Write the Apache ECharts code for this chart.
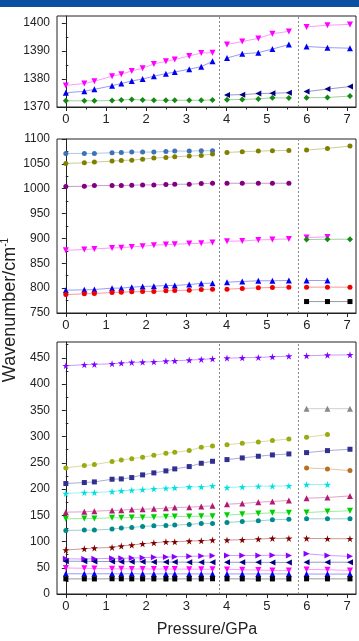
<!DOCTYPE html>
<html>
<head>
<meta charset="utf-8">
<script src="https://cdn.jsdelivr.net/npm/echarts@6/dist/echarts.min.js"></script>
<style>
  html, body { margin: 0; padding: 0; background: #fff; }
  #chart { width: 359px; height: 641px; }
</style>
</head>
<body>
<div id="chart"></div>
<script>
// pressures (GPa) for the three phases
const pressure1 = [0, 0.46, 0.71, 1.15, 1.38, 1.64, 1.91, 2.19, 2.49, 2.71, 3.07, 3.37, 3.65]
const pressure2 = [4.01, 4.39, 4.79, 5.14, 5.55]
const pressure3 = [5.99, 6.51, 7.07]
const boundaries = [3.82, 5.79]
const xTicks = [0, 1, 2, 3, 4, 5, 6, 7]

// top panel (1370 - 1400)
const p1Mag = [[1377.7, 1378.4, 1379.2, 1381, 1381.7, 1382.9, 1383.8, 1385.4, 1386.3, 1387, 1388.2, 1389.3, 1389.4], [1392.3, 1393.4, 1394.5, 1396.2, 1397], [1398.6, 1399.2, 1399.5]]
const p1Blue = [[1375.1, 1375.6, 1376.3, 1377.6, 1378.4, 1379.3, 1380, 1381, 1381.9, 1382.5, 1383.5, 1384.4, 1386.3], [1387.5, 1389, 1389.4, 1390.7, 1392.3], [1391.6, 1391.2, 1391]]
const p1Navy = [null, [1374.3, 1374.4, 1374.8, 1374.9, 1375.1], [1375.5, 1376.4, 1377.3]]
const p1Green = [[1372.2, 1372.2, 1372.2, 1372.3, 1372.5, 1372.7, 1372.5, 1372.4, 1372.4, 1372.4, 1372.4, 1372.4, 1372.5], [1372.6, 1372.7, 1372.9, 1373.3, 1373.2], [1373.3, 1373.4, 1373.9]]

// middle panel (750 - 1100)
const p2Steel = [[1071, 1071, 1071, 1072.4, 1073, 1073.7, 1073.7, 1073.7, 1075, 1075.7, 1075.7, 1076.4, 1076.4], null, null]
const p2Olive = [[1050.8, 1052.1, 1053.5, 1055.5, 1056.8, 1057.5, 1059.5, 1061.6, 1062.9, 1064.3, 1065.6, 1067, 1069.7], [1073, 1074.4, 1075.7, 1076.4, 1077.1], [1077.7, 1081.1, 1085.8]]
const p2Purple = [[1004.3, 1005, 1006.3, 1006.3, 1006.3, 1007, 1007.6, 1007.6, 1008.3, 1009, 1009, 1010.3, 1011], [1011, 1011, 1011, 1011, 1011], null]
const p2Mag = [[876.1, 877.5, 878.8, 880.9, 881.5, 882.9, 884.2, 886.2, 887.6, 888.3, 889.6, 890.3, 891.6], [894.3, 895, 897, 897.7, 899], [901.8, 903.1, null]]
const p2Green = [null, null, [897.7, 898.4, 898.4]]
const p2Blue = [[795.9, 796.6, 797.2, 800, 800, 802, 803.3, 804, 805.3, 805.3, 807.4, 809.4, 810], [812.1, 813.4, 814.8, 814.8, 815.4], [815.4, 815.4, null]]
const p2Red = [[787.1, 788.5, 789.2, 791.2, 791.9, 792.5, 793.2, 793.2, 794.6, 795.2, 795.9, 797.2, 797.9], [797.9, 799.3, 800.6, 801.3, 802], [802, 802, 802]]
const p2Black = [null, null, [773, 773, 773]]

// bottom panel (0 - 450)
const p3Star = [[434.8, 436.7, 437.3, 438.6, 439.8, 441.1, 441.7, 442.3, 443.6, 444.2, 445.5, 446.8, 448], [449.3, 449.9, 450.6, 451.8, 453], [453.7, 455, 455.6]]
const p3Grey = [null, null, [353, 353, 353]]
const p3Lime = [[240.2, 244.6, 246.5, 252.2, 255.3, 257.8, 260.4, 264.3, 268, 270, 273.1, 279.5, 282], [284.5, 287, 289.6, 292.2, 295.3], [298.5, 303.6, null]]
const p3Navy = [[210.4, 212.3, 213.5, 218.6, 219.2, 221.8, 226.9, 230.7, 234.5, 238.3, 242.7, 249, 252.8], [256, 259.2, 262.4, 264.9, 266.8], [269.3, 273.1, 275.7]]
const p3Brown = [null, null, [240.2, 238.3, 235.1]]
const p3Cyan = [[191.4, 193.3, 193.3, 195.2, 196.5, 197.7, 199, 200.3, 201.5, 202.2, 204, 204, 205.9], [202.8, 204, 205.3, 205.3, 205.9], [208.5, 208.5, null]]
const p3Crimson = [[155.9, 156.5, 157.8, 159.1, 159.7, 161, 161.6, 162.2, 163.5, 164.8, 165.4, 166.7, 167.9], [171.1, 172.4, 174.9, 176.2, 178.1], [182.5, 183.8, 186.9]]
const p3Green = [[143.2, 143.8, 143.8, 145.1, 145.1, 145.7, 145.7, 146.4, 147, 147.6, 147.6, 148.3, 148.3], [150.2, 152.1, 153.3, 154.6, 154.6], [155.2, 157.1, 158.4]]
const p3Teal = [[121.1, 121.7, 121.7, 123.6, 125.5, 126.8, 128.7, 129.9, 130.6, 131.2, 132.5, 134.4, 134.4], [136.3, 138.2, 139.4, 141.3, 142.6], [143.2, 143.2, 143.2]]
const p3DarkRed = [[83.7, 86.2, 87.5, 88.7, 91.3, 93.2, 95.7, 97.5, 99.4, 99.4, 100.8, 101.4, 102.7], [102.7, 103.3, 104.6, 105.9, 105.9], [105.9, 105.3, 105.3]]
const p3Violet = [[67.2, 66.5, 67.2, 67.9, 67.9, 68.4, 69.1, 69.8, 70.3, 70.9, 71.7, 72.2, 72.8], [73.4, 73.4, 73.4, 74, 73.4], [76.6, 73.4, 71.7]]
const p3NavyL = [[62.5, 62.3, 62, 61.8, 61.6, 61.4, 61.2, 61, 61, 60.8, 60.6, 60.5, 60.4], [60.5, 60.4, 60.3, 60.2, 60.1], [60.5, 60.5, 60.5]]
const p3Mag = [[49.5, 49, 48.5, 48, 48, 47.8, 47.7, 47.6, 47.5, 47.4, 47.3, 47.2, 47.1], [46.9, 46.2, 45.6, 45, 45], [46.9, 46.2, 45]]
const p3Blue = [[38.5, 38.5, 38.5, 38.5, 38.4, 38.4, 38.4, 38.3, 38.3, 38.3, 38.3, 38.2, 38.2], [38.2, 38.2, 38.2, 38.2, 38.2], [38, 38, 38]]
const p3Black = [[28.8, 28.8, 28.7, 29, 28.9, 28.8, 28.8, 28.8, 28.6, 28.7, 28.8, 28.8, 29], [28.8, 28.8, 28.6, 28.7, 28.7], [28.9, 28.8, 28.8]]

// y ticks per panel
const yTicks = [[1370, 1380, 1390, 1400], [750, 800, 850, 900, 950, 1000, 1050, 1100], [0, 50, 100, 150, 200, 250, 300, 350, 400, 450]]
const yMinor = [[1375, 1385, 1395], [775, 825, 875, 925, 975, 1025, 1075], [25, 75, 125, 175, 225, 275, 325, 375, 425, 475]]
const yRange = [[1370, 1402.5], [750, 1100], [0, 480]]

const STAR = 'path://M50,0 L61,35 L98,35 L68,57 L79,91 L50,70 L21,91 L32,57 L2,35 L39,35 Z'
const FONT = 'Liberation Sans, Arial, sans-serif'

// marker styles: [shape, rotate, size]
const UP = ['triangle', 0, 6]
const DOWN = ['triangle', 180, 6]
const LEFT = ['triangle', 90, 6]
const RIGHT = ['triangle', -90, 6]
const CIRC = ['circle', 0, 5]
const SQ = ['rect', 0, 5]
const DIA = ['diamond', 0, 6]
const STR = ['star', 0, 7]

const specs = [
  [0, p1Mag, '#ff00ff', DOWN],
  [0, p1Blue, '#0000ee', UP],
  [0, p1Navy, '#000080', LEFT],
  [0, p1Green, '#138a13', DIA],
  [1, p2Steel, '#3d72b8', CIRC],
  [1, p2Olive, '#808000', CIRC],
  [1, p2Purple, '#800080', CIRC],
  [1, p2Mag, '#ff00ff', DOWN],
  [1, p2Green, '#138a13', DIA],
  [1, p2Blue, '#0000ee', UP],
  [1, p2Red, '#ee0000', CIRC],
  [1, p2Black, '#000000', SQ],
  [2, p3Star, '#8000ff', STR],
  [2, p3Grey, '#888888', UP],
  [2, p3Lime, '#9aaa10', CIRC],
  [2, p3Navy, '#303090', SQ],
  [2, p3Brown, '#b87020', CIRC],
  [2, p3Cyan, '#00e0e0', STR],
  [2, p3Crimson, '#b01a70', UP],
  [2, p3Green, '#00d000', DOWN],
  [2, p3Teal, '#008b8b', CIRC],
  [2, p3DarkRed, '#800000', STR],
  [2, p3Violet, '#8a00ff', RIGHT],
  [2, p3NavyL, '#000080', LEFT],
  [2, p3Mag, '#ff00ff', DOWN],
  [2, p3Blue, '#0000ee', UP],
  [2, p3Black, '#000000', SQ]
]

const grids = [
  { left: 57, right: 3, top: 16, height: 91 },
  { left: 57, right: 3, top: 139, height: 174 },
  { left: 57, right: 3, top: 342, height: 252 }
]

function toPoints (segs) {
  const xs = [pressure1, pressure2, pressure3]
  const out = []
  segs.forEach((seg, i) => {
    if (!seg) return
    seg.forEach((v, j) => out.push([xs[i][j], v == null ? '-' : v]))
    out.push([i < 2 ? boundaries[i] : 7.2, '-'])
  })
  return out
}

const chart = echarts.init(document.getElementById('chart'))

const plain = v => String(v)
const xAxes = []
const yAxes = []
grids.forEach((g, i) => {
  xAxes.push({
    type: 'value', gridIndex: i, min: -0.22, max: 7.22,
    axisLine: { show: true, lineStyle: { color: '#222', width: 1 } },
    axisTick: { show: true, length: 4, customValues: xTicks, lineStyle: { color: '#222' } },
    axisLabel: { customValues: xTicks, margin: 6, fontSize: 13, color: '#222', fontFamily: FONT, formatter: plain },
    splitLine: { show: false }
  })
  xAxes.push({
    type: 'value', gridIndex: i, min: -0.22, max: 7.22, position: 'bottom',
    axisLine: { show: false },
    axisTick: { show: true, length: 2.5, customValues: [0.5, 1.5, 2.5, 3.5, 4.5, 5.5, 6.5], lineStyle: { color: '#222' } },
    axisLabel: { show: false },
    splitLine: { show: false }
  })
  yAxes.push({
    type: 'value', gridIndex: i, min: yRange[i][0], max: yRange[i][1],
    axisLine: { show: true, lineStyle: { color: '#222', width: 1 } },
    axisTick: { show: true, length: 4, customValues: yTicks[i], lineStyle: { color: '#222' } },
    axisLabel: { customValues: yTicks[i], margin: 7, fontSize: 12, color: '#222', fontFamily: FONT, formatter: plain },
    splitLine: { show: false }
  })
  yAxes.push({
    type: 'value', gridIndex: i, min: yRange[i][0], max: yRange[i][1], position: 'left',
    axisLine: { show: false },
    axisTick: { show: true, inside: true, length: 2.5, customValues: yMinor[i], lineStyle: { color: '#222' } },
    axisLabel: { show: false },
    splitLine: { show: false }
  })
})

const series = specs.map((s) => {
  const [g, vals, color, mk] = s
  return {
    type: 'line',
    xAxisIndex: g * 2,
    yAxisIndex: g * 2,
    data: toPoints(vals),
    connectNulls: false,
    symbol: mk[0] === 'star' ? STAR : mk[0],
    symbolRotate: mk[1],
    symbolSize: mk[2],
    itemStyle: { color: color },
    lineStyle: { color: color, width: 1, opacity: 0.4 },
    z: 3
  }
})

// dashed phase boundaries, one set per panel
grids.forEach((g, i) => {
  series.push({
    type: 'line',
    xAxisIndex: i * 2,
    yAxisIndex: i * 2,
    data: [],
    markLine: {
      silent: true,
      symbol: 'none',
      label: { show: false },
      lineStyle: { type: [2, 2], color: '#888', width: 1 },
      data: boundaries.map(b => ({ xAxis: b }))
    }
  })
})

const option = {
  animation: false,
  backgroundColor: '#fff',
  grid: grids.map(g => Object.assign({ show: true, borderColor: '#222', borderWidth: 1, backgroundColor: 'transparent' }, g)),
  xAxis: xAxes,
  yAxis: yAxes,
  series: series,
  graphic: [
    { type: 'rect', left: 0, top: 0, shape: { width: 359, height: 7 }, style: { fill: '#0b4fa2' } },
    {
      type: 'text', x: 10, y: 310, rotation: Math.PI / 2,
      style: {
        text: '{a|Wavenumber/cm}{b|-1}',
        align: 'center', verticalAlign: 'middle',
        rich: {
          a: { fontSize: 18, fontFamily: FONT, fill: '#222' },
          b: { fontSize: 10, fontFamily: FONT, fill: '#222', padding: [0, 0, 10, 0] }
        }
      }
    },
    {
      type: 'text', x: 207, y: 630,
      style: { text: 'Pressure/GPa', fontSize: 16, fontFamily: FONT, fill: '#222', align: 'center', verticalAlign: 'middle' }
    }
  ]
}

chart.setOption(option)
</script>
</body>
</html>
